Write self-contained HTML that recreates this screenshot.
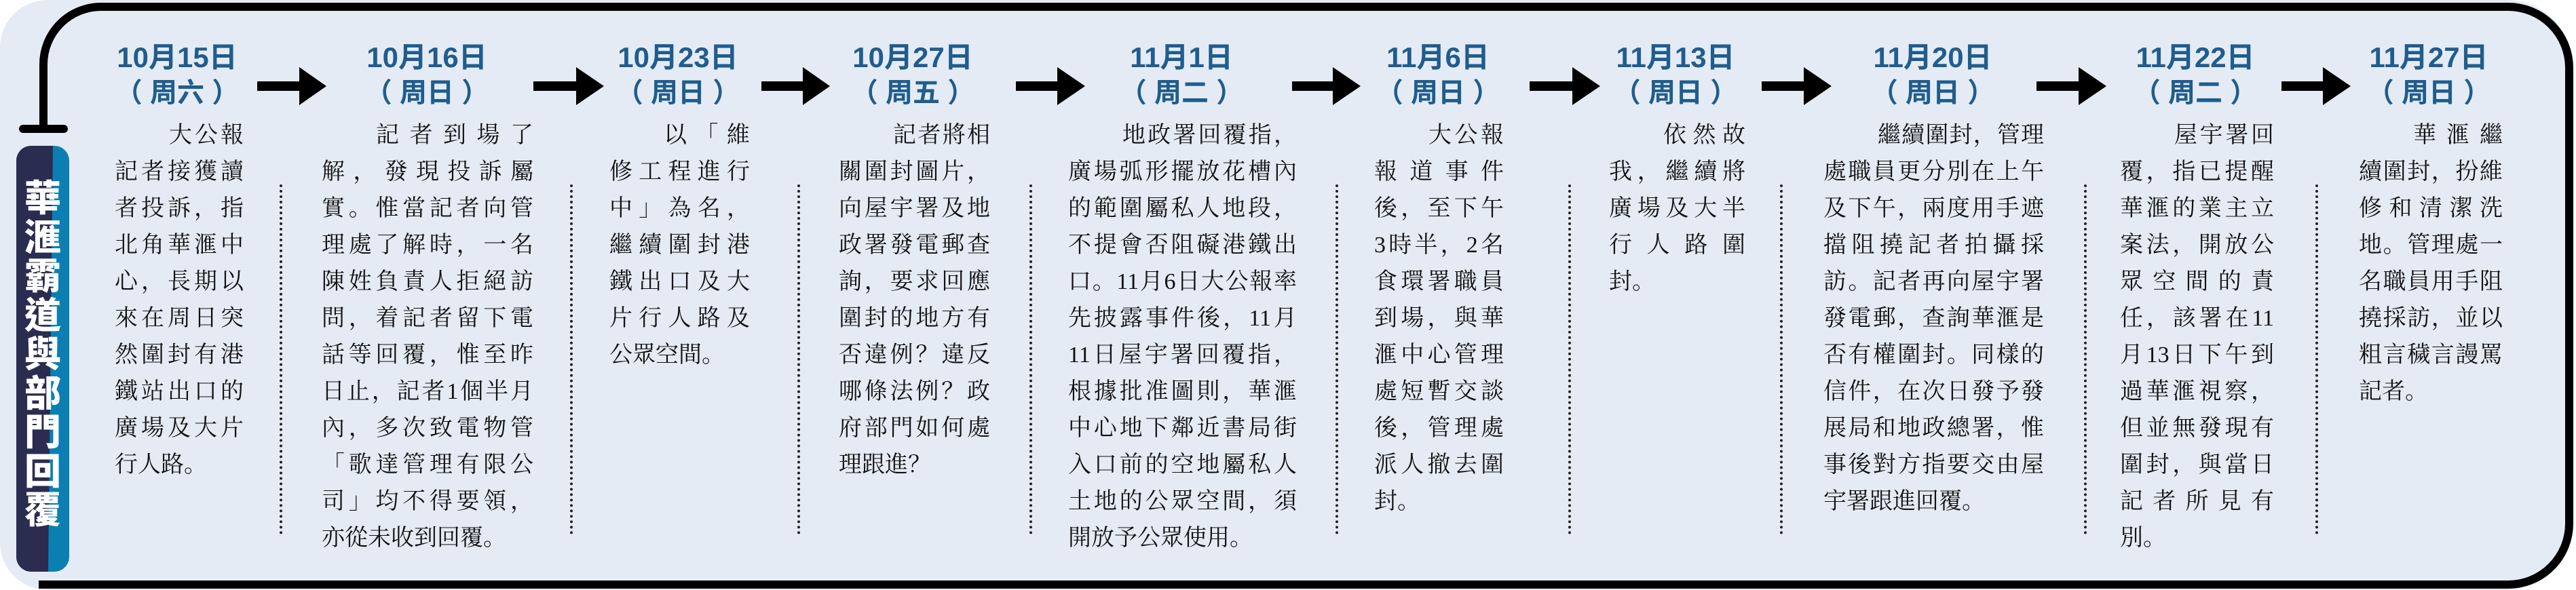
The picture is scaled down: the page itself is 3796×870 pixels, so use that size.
<!DOCTYPE html>
<html><head><meta charset="utf-8">
<style>
html,body{margin:0;padding:0;}
body{width:3796px;height:870px;position:relative;overflow:hidden;background:#fff;}
.bg{position:absolute;left:0;top:0;width:3790px;height:870px;background:#e5ebf4;border-radius:70px 95px 95px 70px;}
.date{position:absolute;top:60px;text-align:center;font-family:"Liberation Sans","Noto Sans CJK TC",sans-serif;font-weight:bold;color:#1f5d8e;white-space:nowrap;}
.d1{font-size:42px;line-height:50px;}
.d2{font-size:40px;line-height:54px;}
.body{position:absolute;top:173px;font-family:"Liberation Serif","Noto Serif CJK SC",serif;font-size:34px;color:#111;}
.body div{height:54px;line-height:54px;text-align:justify;text-align-last:justify;white-space:nowrap;}
.body div.f{padding-left:80px;}
.body div.l{text-align-last:left;}
.dot{position:absolute;top:272px;height:516px;border-left:4px dotted #222;}
.title{position:absolute;left:24px;top:215px;width:78px;height:628px;border-radius:22px;overflow:hidden;background:#0b7fb1;}
.title .dk{position:absolute;left:0;top:0;width:100%;height:100%;background:#2a2c50;clip-path:polygon(0 0,54px 0,47px 100%,0 100%);}
.title .t{position:absolute;left:0;top:44px;width:78px;text-align:center;font-family:"Noto Sans CJK TC",sans-serif;font-weight:900;font-size:54px;line-height:57.5px;color:#fff;}
</style></head><body>
<div class="bg"></div>
<svg style="position:absolute;left:0;top:0" width="3796" height="870">
<path d="M64 190 L64 95 A85 85 0 0 1 149 10 L3696 10 A90 90 0 0 1 3786 100 L3786 772 A90 90 0 0 1 3696 862 L57 862" fill="none" stroke="#000" stroke-width="12"/>
<line x1="34" y1="190" x2="94" y2="190" stroke="#000" stroke-width="12" stroke-linecap="round"/>
<g fill="#000">
<path d="M379 120h62v-21l40 28-40 28v-21h-62z"/>
<path d="M786 120h63v-21l41 28-41 28v-21h-63z"/>
<path d="M1122 120h61v-21l40 28-40 28v-21h-61z"/>
<path d="M1497 120h61v-21l41 28-41 28v-21h-61z"/>
<path d="M1904 120h60v-21l41 28-41 28v-21h-60z"/>
<path d="M2254 120h63v-21l41 28-41 28v-21h-63z"/>
<path d="M2596 120h62v-21l41 28-41 28v-21h-62z"/>
<path d="M3001 120h62v-21l41 28-41 28v-21h-62z"/>
<path d="M3362 120h61v-21l41 28-41 28v-21h-61z"/>
</g>
</svg>
<div class="title"><div class="dk"></div><div class="t">華<br>滙<br>霸<br>道<br>與<br>部<br>門<br>回<br>覆</div></div>

<div class="dot" style="left:412px"></div>
<div class="dot" style="left:840px"></div>
<div class="dot" style="left:1175px"></div>
<div class="dot" style="left:1517px"></div>
<div class="dot" style="left:1968px"></div>
<div class="dot" style="left:2311px"></div>
<div class="dot" style="left:2623px"></div>
<div class="dot" style="left:3071px"></div>
<div class="dot" style="left:3412px"></div>

<div class="date" style="left:161px;width:200px"><div class="d1">10月15日</div><div class="d2">（ 周六 ）</div></div>
<div class="body" style="left:169px;width:190px">
<div class="f">大公報</div><div>記者接獲讀</div><div>者投訴，指</div><div>北角華滙中</div><div>心，長期以</div><div>來在周日突</div><div>然圍封有港</div><div>鐵站出口的</div><div>廣場及大片</div><div class="l">行人路。</div></div>

<div class="date" style="left:529px;width:200px"><div class="d1">10月16日</div><div class="d2">（ 周日 ）</div></div>
<div class="body" style="left:474px;width:312px">
<div class="f">記者到場了</div><div>解，發現投訴屬</div><div>實。惟當記者向管</div><div>理處了解時，一名</div><div>陳姓負責人拒絕訪</div><div>問，着記者留下電</div><div>話等回覆，惟至昨</div><div>日止，記者1個半月</div><div>內，多次致電物管</div><div>「歌達管理有限公</div><div>司」均不得要領，</div><div class="l">亦從未收到回覆。</div></div>

<div class="date" style="left:899px;width:200px"><div class="d1">10月23日</div><div class="d2">（ 周日 ）</div></div>
<div class="body" style="left:898px;width:207px">
<div class="f">以「維</div><div>修工程進行</div><div>中」為名，</div><div>繼續圍封港</div><div>鐵出口及大</div><div>片行人路及</div><div class="l">公眾空間。</div></div>

<div class="date" style="left:1245px;width:200px"><div class="d1">10月27日</div><div class="d2">（ 周五 ）</div></div>
<div class="body" style="left:1236px;width:223px">
<div class="f">記者將相</div><div>關圍封圖片，</div><div>向屋宇署及地</div><div>政署發電郵查</div><div>詢，要求回應</div><div>圍封的地方有</div><div>否違例？違反</div><div>哪條法例？政</div><div>府部門如何處</div><div class="l">理跟進？</div></div>

<div class="date" style="left:1641px;width:200px"><div class="d1">11月1日</div><div class="d2">（ 周二 ）</div></div>
<div class="body" style="left:1574px;width:337px">
<div class="f">地政署回覆指，</div><div>廣場弧形擺放花槽內</div><div>的範圍屬私人地段，</div><div>不提會否阻礙港鐵出</div><div>口。11月6日大公報率</div><div>先披露事件後，11月</div><div>11日屋宇署回覆指，</div><div>根據批准圖則，華滙</div><div>中心地下鄰近書局街</div><div>入口前的空地屬私人</div><div>土地的公眾空間，須</div><div class="l">開放予公眾使用。</div></div>

<div class="date" style="left:2019px;width:200px"><div class="d1">11月6日</div><div class="d2">（ 周日 ）</div></div>
<div class="body" style="left:2025px;width:191px">
<div class="f">大公報</div><div>報道事件</div><div>後，至下午</div><div>3時半，2名</div><div>食環署職員</div><div>到場，與華</div><div>滙中心管理</div><div>處短暫交談</div><div>後，管理處</div><div>派人撤去圍</div><div class="l">封。</div></div>

<div class="date" style="left:2369px;width:200px"><div class="d1">11月13日</div><div class="d2">（ 周日 ）</div></div>
<div class="body" style="left:2371px;width:201px">
<div class="f">依然故</div><div>我，繼續將</div><div>廣場及大半</div><div>行人路圍</div><div class="l">封。</div></div>

<div class="date" style="left:2748px;width:200px"><div class="d1">11月20日</div><div class="d2">（ 周日 ）</div></div>
<div class="body" style="left:2687px;width:325px">
<div class="f">繼續圍封，管理</div><div>處職員更分別在上午</div><div>及下午，兩度用手遮</div><div>擋阻撓記者拍攝採</div><div>訪。記者再向屋宇署</div><div>發電郵，查詢華滙是</div><div>否有權圍封。同樣的</div><div>信件，在次日發予發</div><div>展局和地政總署，惟</div><div>事後對方指要交由屋</div><div class="l">宇署跟進回覆。</div></div>

<div class="date" style="left:3135px;width:200px"><div class="d1">11月22日</div><div class="d2">（ 周二 ）</div></div>
<div class="body" style="left:3124px;width:227px">
<div class="f">屋宇署回</div><div>覆，指已提醒</div><div>華滙的業主立</div><div>案法，開放公</div><div>眾空間的責</div><div>任，該署在11</div><div>月13日下午到</div><div>過華滙視察，</div><div>但並無發現有</div><div>圍封，與當日</div><div>記者所見有</div><div class="l">別。</div></div>

<div class="date" style="left:3479px;width:200px"><div class="d1">11月27日</div><div class="d2">（ 周日 ）</div></div>
<div class="body" style="left:3476px;width:212px">
<div class="f">華滙繼</div><div>續圍封，扮維</div><div>修和清潔洗</div><div>地。管理處一</div><div>名職員用手阻</div><div>撓採訪，並以</div><div>粗言穢言謾罵</div><div class="l">記者。</div></div>
</body></html>
